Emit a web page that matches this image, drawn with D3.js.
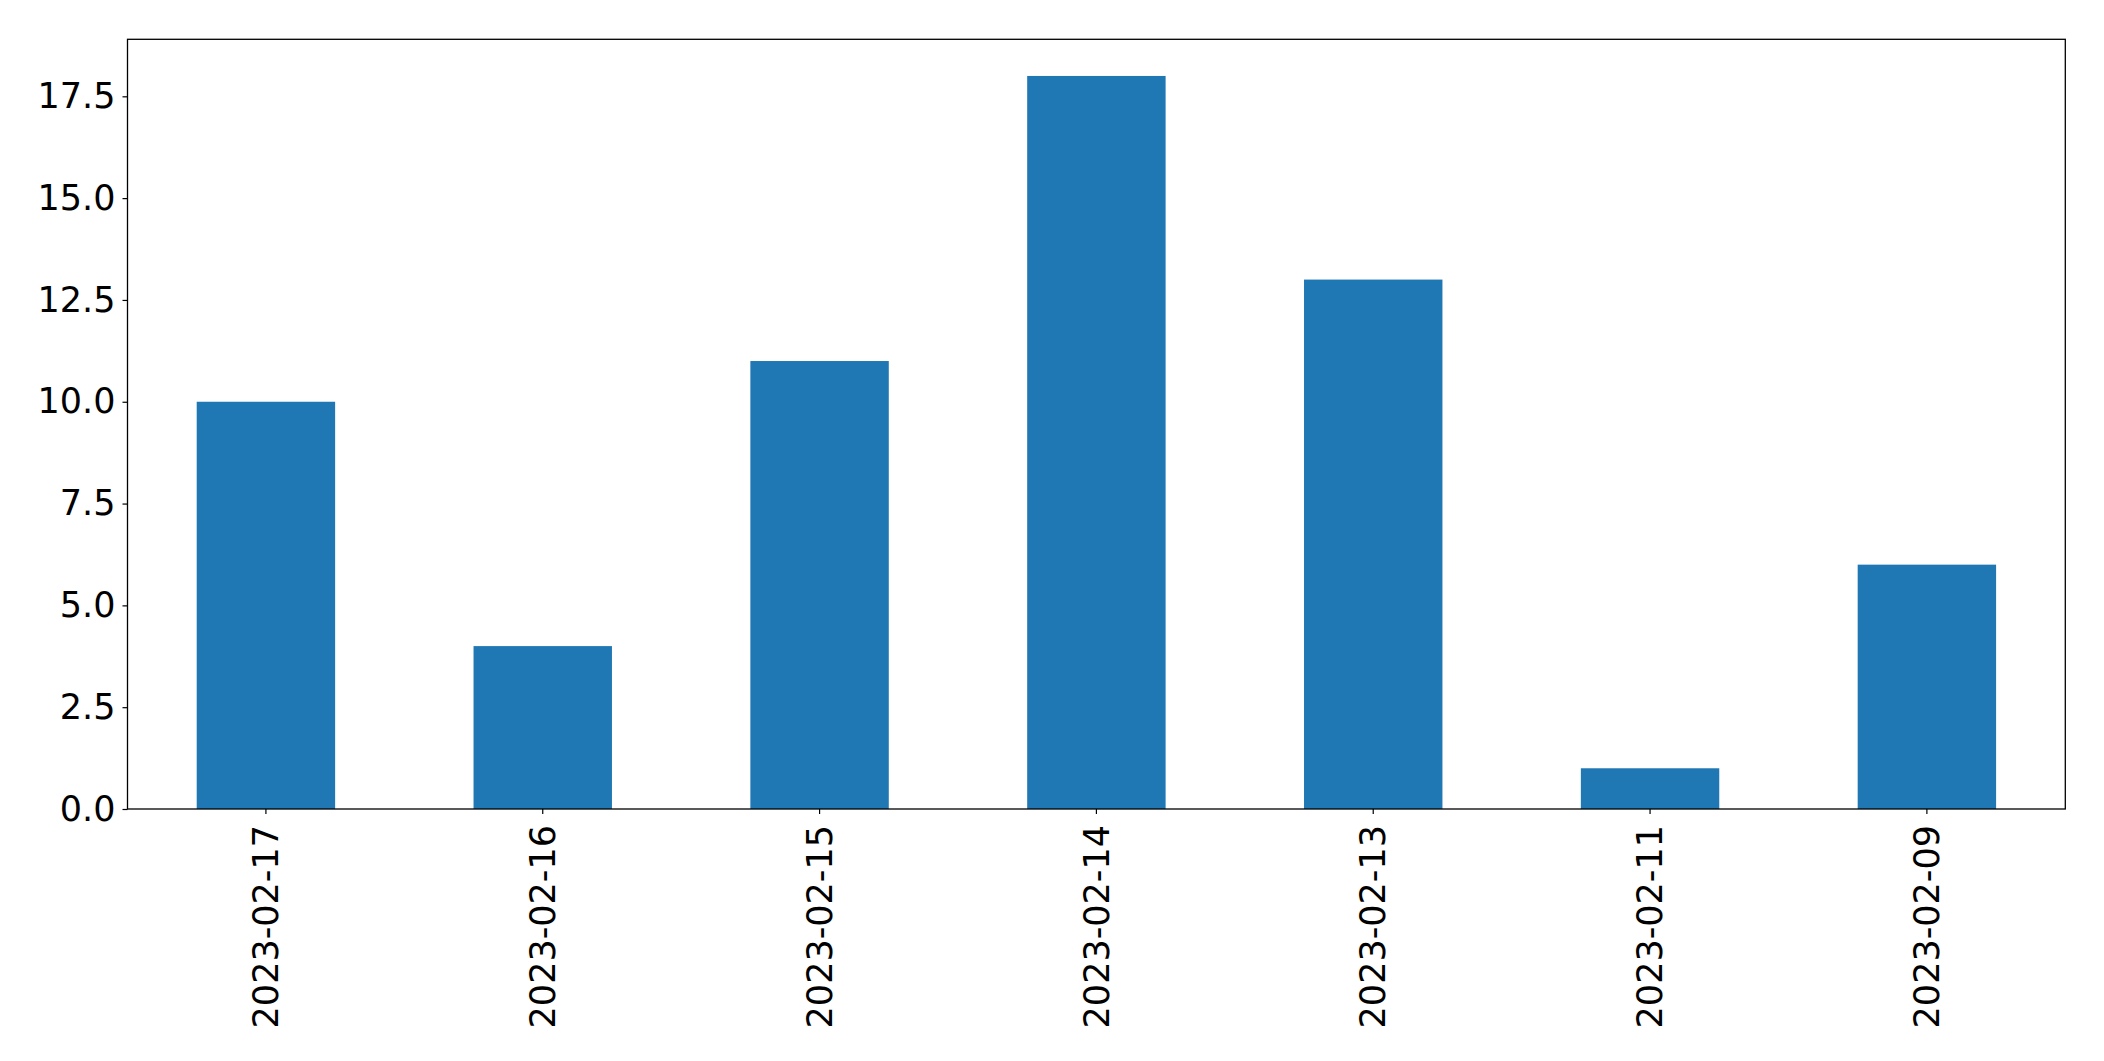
<!DOCTYPE html>
<html><head><meta charset="utf-8">
<script src="https://cdn.jsdelivr.net/npm/d3@7"></script>
<style>body{margin:0;background:#fff}svg{display:block}</style>
</head><body>
<script>
const categories = ["2023-02-17","2023-02-16","2023-02-15","2023-02-14","2023-02-13","2023-02-11","2023-02-09"];
const values = [10, 4, 11, 18, 13, 1, 6];
const yTicks = [0, 2.5, 5, 7.5, 10, 12.5, 15, 17.5];

const W = 2104, H = 1061;
const m = {left: 127.5, right: 2104 - 2065.3, top: 39.3, bottom: H - 809};
const iw = W - m.left - m.right, ih = H - m.top - m.bottom;

const svg = d3.select("body").append("svg").attr("width", W).attr("height", H);
const g = svg.append("g").attr("transform", `translate(${m.left},${m.top})`);

const x = d3.scaleBand().domain(categories).range([0, iw]).paddingInner(0.5).paddingOuter(0.25);
const y = d3.scaleLinear().domain([0, 18 * 1.05]).range([ih, 0]);

g.selectAll("rect.bar").data(values).join("rect")
  .attr("class", "bar")
  .attr("x", (d, i) => x(categories[i]))
  .attr("width", x.bandwidth())
  .attr("y", d => y(d))
  .attr("height", d => y(0) - y(d))
  .attr("fill", "#1f77b4");

const font = "'DejaVu Sans', sans-serif";

const ya = g.append("g").call(d3.axisLeft(y).tickValues(yTicks).tickFormat(d3.format(".1f")).tickSize(5).tickPadding(7));
ya.select(".domain").remove();
ya.selectAll("line").attr("stroke", "#000").attr("stroke-width", 1.2);
ya.selectAll("text").attr("font-family", font).attr("font-size", 35).attr("fill", "#000");

const xa = g.append("g").attr("transform", `translate(0,${ih})`)
  .call(d3.axisBottom(x).tickSize(5).tickPadding(0));
xa.select(".domain").remove();
xa.selectAll("line").attr("stroke", "#000").attr("stroke-width", 1.2);
xa.selectAll("text")
  .attr("font-family", font).attr("font-size", 35).attr("fill", "#000")
  .attr("text-anchor", "end")
  .attr("transform", "translate(0,16) rotate(-90)")
  .attr("x", 0).attr("y", 0).attr("dy", "0.35em");

g.append("rect").attr("x", 0).attr("y", 0).attr("width", iw).attr("height", ih)
  .attr("fill", "none").attr("stroke", "#000").attr("stroke-width", 1.3);
</script>
</body></html>
